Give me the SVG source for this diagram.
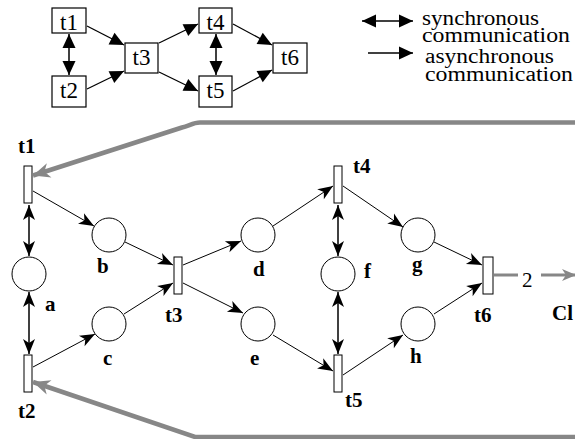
<svg xmlns="http://www.w3.org/2000/svg" width="575" height="439" viewBox="0 0 575 439">
<style>
  .box{fill:#fff;stroke:#000;stroke-width:1.2}
  .tr{fill:#fff;stroke:#000;stroke-width:1}
  .pl{fill:#fff;stroke:#000;stroke-width:1}
  text{font-family:'Liberation Serif','DejaVu Serif',serif}
  .mt{font-size:23px;fill:#000;text-anchor:middle}
  .lg{font-size:20px;fill:#000}
  .lb{font-size:21px;font-weight:bold;fill:#000}
  .num{font-size:21px;fill:#000}
  .a1{stroke:#000;stroke-width:1;fill:none;marker-end:url(#ah)}
  .a2{stroke:#000;stroke-width:1.5;fill:none;marker-start:url(#ah);marker-end:url(#ah)}
  .m1{stroke:#000;stroke-width:1.3;fill:none;marker-end:url(#tri)}
  .m2{stroke:#000;stroke-width:1.5;fill:none;marker-start:url(#tri);marker-end:url(#tri)}
  .g{stroke:#878787;stroke-width:4.5;fill:none;stroke-linejoin:round}
</style>
<defs>
  <marker id="ah" viewBox="-16 -7 17 14" refX="0" refY="0" markerWidth="17" markerHeight="14" markerUnits="userSpaceOnUse" orient="auto-start-reverse">
    <path d="M0,0 L-15,-6 L-11,0 L-15,6 Z" fill="#000"/>
  </marker>
  <marker id="tri" viewBox="-15 -7 16 14" refX="0" refY="0" markerWidth="16" markerHeight="14" markerUnits="userSpaceOnUse" orient="auto-start-reverse">
    <path d="M0,0 L-14,-6.5 L-14,6.5 Z" fill="#000"/>
  </marker>
  <marker id="gh" viewBox="-18 -9 19 18" refX="0" refY="0" markerWidth="19" markerHeight="18" markerUnits="userSpaceOnUse" orient="auto">
    <path d="M0,0 L-17,-7.5 L-12,0 L-17,7.5 Z" fill="#878787"/>
  </marker>
  <marker id="gh2" viewBox="-15 -7 16 14" refX="0" refY="0" markerWidth="16" markerHeight="14" markerUnits="userSpaceOnUse" orient="auto">
    <path d="M0,0 L-14,-6 L-10,0 L-14,6 Z" fill="#878787"/>
  </marker>
</defs>

<!-- overview diagram -->
<g id="mini">
  <g id="m-t1"><rect class="box" x="52" y="8" width="34" height="25"/><text class="mt" x="69" y="30">t1</text></g>
  <g id="m-t2"><rect class="box" x="52" y="76" width="34" height="31"/><text class="mt" x="69" y="98">t2</text></g>
  <g id="m-t3"><rect class="box" x="125" y="43" width="33" height="30"/><text class="mt" x="141.5" y="65">t3</text></g>
  <g id="m-t4"><rect class="box" x="199" y="8" width="33" height="25"/><text class="mt" x="215.5" y="30">t4</text></g>
  <g id="m-t5"><rect class="box" x="199" y="76" width="33" height="31"/><text class="mt" x="215.5" y="98">t5</text></g>
  <g id="m-t6"><rect class="box" x="273" y="43" width="34" height="30"/><text class="mt" x="290" y="65">t6</text></g>
</g>
<g id="mini-connectors">
  <line class="m2" x1="69" y1="34" x2="69" y2="75"/>
  <line class="m2" x1="216" y1="34" x2="216" y2="75"/>
  <line class="m1" x1="87" y1="26" x2="124" y2="45"/>
  <line class="m1" x1="87" y1="89" x2="124" y2="71"/>
  <line class="m1" x1="159" y1="43" x2="198" y2="24"/>
  <line class="m1" x1="159" y1="72" x2="198" y2="91"/>
  <line class="m1" x1="233" y1="24" x2="272" y2="45"/>
  <line class="m1" x1="233" y1="91" x2="272" y2="70"/>
</g>

<!-- legend -->
<g id="legend">
  <line class="m2" x1="362" y1="21" x2="413" y2="21"/>
  <text class="lg" x="422" y="25" textLength="117" lengthAdjust="spacingAndGlyphs">synchronous</text>
  <text class="lg" x="422" y="42" textLength="148" lengthAdjust="spacingAndGlyphs">communication</text>
  <line class="m1" x1="368" y1="53" x2="413" y2="53"/>
  <text class="lg" x="425" y="63" textLength="129" lengthAdjust="spacingAndGlyphs">asynchronous</text>
  <text class="lg" x="425" y="81" textLength="148" lengthAdjust="spacingAndGlyphs">communication</text>
</g>

<!-- Petri net -->
<g id="t1"><rect class="tr" x="24" y="166" width="8" height="37"/><text class="lb" x="18" y="153">t1</text></g>
<g id="t2"><rect class="tr" x="24" y="355" width="8" height="37"/><text class="lb" x="18" y="418">t2</text></g>
<g id="t3"><rect class="tr" x="174" y="257" width="8" height="37"/><text class="lb" x="165" y="322">t3</text></g>
<g id="t4"><rect class="tr" x="334" y="166" width="8" height="37"/><text class="lb" x="353" y="173">t4</text></g>
<g id="t5"><rect class="tr" x="334" y="355" width="8" height="37"/><text class="lb" x="345" y="407">t5</text></g>
<g id="t6"><rect class="tr" x="483" y="257" width="10" height="37"/><text class="lb" x="474" y="322">t6</text></g>
<g id="a"><circle class="pl" cx="29" cy="274" r="17"/><text class="lb" x="45" y="311">a</text></g>
<g id="b"><circle class="pl" cx="109" cy="235" r="17"/><text class="lb" x="97" y="273">b</text></g>
<g id="c"><circle class="pl" cx="109" cy="324" r="17"/><text class="lb" x="103" y="365">c</text></g>
<g id="d"><circle class="pl" cx="258" cy="235" r="17"/><text class="lb" x="253" y="276">d</text></g>
<g id="e"><circle class="pl" cx="258" cy="324" r="17"/><text class="lb" x="250" y="365">e</text></g>
<g id="f"><circle class="pl" cx="338" cy="274" r="17"/><text class="lb" x="364" y="278">f</text></g>
<g id="g"><circle class="pl" cx="418" cy="235" r="17"/><text class="lb" x="412" y="271">g</text></g>
<g id="h"><circle class="pl" cx="418" cy="324" r="17"/><text class="lb" x="410" y="363">h</text></g>
<g id="cl"><text class="lb" x="552" y="320">Cl</text></g>

<g id="connectors">
  <line class="a2" x1="29" y1="205" x2="29" y2="256"/>
  <line class="a2" x1="29" y1="292" x2="29" y2="354"/>
  <line class="a2" x1="338" y1="205" x2="338" y2="256"/>
  <line class="a2" x1="338" y1="292" x2="338" y2="354"/>
  <line class="a1" x1="33" y1="191" x2="94" y2="226"/>
  <line class="a1" x1="125" y1="242" x2="173" y2="265"/>
  <line class="a1" x1="183" y1="265" x2="241" y2="241"/>
  <line class="a1" x1="273" y1="226" x2="333" y2="186"/>
  <line class="a1" x1="343" y1="186" x2="403" y2="227"/>
  <line class="a1" x1="434" y1="242" x2="482" y2="265"/>
  <line class="a1" x1="33" y1="367" x2="95" y2="334"/>
  <line class="a1" x1="124" y1="314" x2="173" y2="283"/>
  <line class="a1" x1="183" y1="283" x2="243" y2="313"/>
  <line class="a1" x1="273" y1="335" x2="333" y2="371"/>
  <line class="a1" x1="343" y1="375" x2="403" y2="335"/>
  <line class="a1" x1="434" y1="314" x2="482" y2="283"/>
  <path class="g" d="M580,122.5 H200 C193,122.5 189,126 182,127.5 L33,175.5" marker-end="url(#gh)"/>
  <path class="g" d="M580,437 H195 L33,382" marker-end="url(#gh)"/>
  <line stroke="#878787" stroke-width="3" x1="494" y1="275" x2="518" y2="275"/>
  <line stroke="#878787" stroke-width="3" x1="541" y1="275" x2="576" y2="275" marker-end="url(#gh2)"/>
  <text class="num" x="522" y="287">2</text>
</g>
</svg>
